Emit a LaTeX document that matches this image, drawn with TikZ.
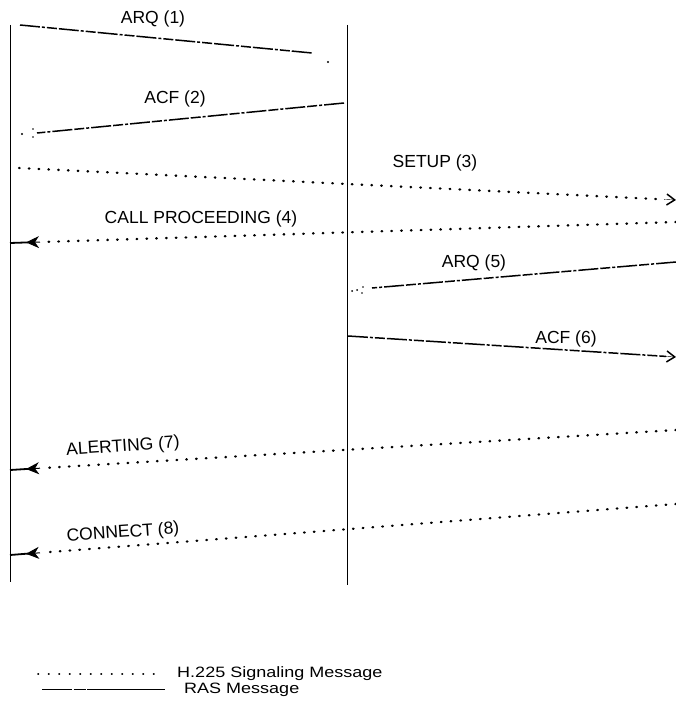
\documentclass[tikz,border=0pt]{standalone}
\usepackage{fontspec}
\setmainfont{Liberation Sans}
\usetikzlibrary{arrows.meta,calc}
\begin{document}
\begin{tikzpicture}[x=1pt,y=-1pt,
  lifeline/.style={line width=1pt},
  sigmsg/.style={line width=2.4pt, line cap=round, dash pattern=on 0.6pt off 9.2pt},
  rasmsg/.style={line width=1.5pt, dash pattern=on 20pt off 2pt on 3pt off 2pt on 10pt off 2pt},
  lbl/.style={font=\fontsize{17.5}{20}\selectfont, inner sep=1pt},
  fillhead/.style={-{Stealth[length=13pt,width=12pt,inset=4pt]}, line width=1pt},
  headbar/.style={line width=1.8pt},
  openhead/.style={-{Straight Barb[length=8pt,width=11pt,line width=1.5pt]}},
  legtext/.style={font=\fontsize{15}{16}\selectfont, anchor=west, inner sep=0pt, xscale=1.2}]
\useasboundingbox (0,0) rectangle (676,709);

% endpoints
\coordinate (Ltop) at (10,25);
\coordinate (Lbot) at (10,582);
\coordinate (Mtop) at (347,25);
\coordinate (Mbot) at (347,585);

% lifelines
\draw[lifeline] (Ltop) -- (Lbot);
\draw[lifeline] (Mtop) -- (Mbot);

% message end points
\coordinate (m1a) at (20,25);   \coordinate (m1b) at (312,53);
\coordinate (m2a) at (344,103); \coordinate (m2b) at (37,133);
\coordinate (m3a) at (19,168);  \coordinate (m3b) at (676,200);
\coordinate (m4a) at (676,222); \coordinate (m4b) at (10,243);
\coordinate (m5a) at (676,262); \coordinate (m5b) at (372,288);
\coordinate (m6a) at (348,336); \coordinate (m6b) at (676,357);
\coordinate (m7a) at (676,430); \coordinate (m7b) at (10,470);
\coordinate (m8a) at (676,504); \coordinate (m8b) at (10,555);

% ARQ (1)
\draw[rasmsg] (m1a) -- (m1b);
\fill (328,62) circle (1.2pt);
\node[lbl] (t1) at (153,19) {ARQ (1)};

% ACF (2)
\draw[rasmsg] (m2a) -- (m2b);
\fill (22,134) circle (1.1pt) (33,129) circle (0.8pt) (33,137) circle (0.8pt);
\node[lbl] (t2) at (175,99) {ACF (2)};

% SETUP (3)
\draw[sigmsg] (m3a) -- ($(m3b)+(-12,-0.6)$);
\draw[openhead] ($(m3b)+(-12,-0.6)$) -- (m3b);
\node[lbl] (t3) at (435,163) {SETUP (3)};

% CALL PROCEEDING (4)
\draw[sigmsg] (m4a) -- ($(m4b)+(32,-1)$);
\draw[fillhead] ($(m4b)+(30,-0.9)$) -- ($(m4b)+(16,-0.6)$);
\draw[headbar] ($(m4b)+(18,-0.6)$) -- (m4b);
\node[lbl] (t4) at (201,219) {CALL PROCEEDING (4)};

% ARQ (5)
\draw[rasmsg] (m5a) -- (m5b);
\fill (352,291) circle (1pt) (357,290) circle (1pt) (363,287) circle (0.8pt) (362,293) circle (0.8pt);
\node[lbl] (t5) at (474,263) {ARQ (5)};

% ACF (6)
\draw[rasmsg] (m6a) -- ($(m6b)+(-10,-0.6)$);
\draw[openhead] ($(m6b)+(-12,-0.7)$) -- (m6b);
\node[lbl] (t6) at (566,339) {ACF (6)};

% ALERTING (7)
\draw[sigmsg] (m7a) -- ($(m7b)+(32,-1.9)$);
\draw[fillhead] ($(m7b)+(30,-1.8)$) -- ($(m7b)+(16,-1)$);
\draw[headbar] ($(m7b)+(18,-1.1)$) -- (m7b);
\node[lbl, rotate=4] (t7) at (123,447) {ALERTING (7)};

% CONNECT (8)
\draw[sigmsg] (m8a) -- ($(m8b)+(32,-2.4)$);
\draw[fillhead] ($(m8b)+(30,-2.2)$) -- ($(m8b)+(16,-1.2)$);
\draw[headbar] ($(m8b)+(18,-1.4)$) -- (m8b);
\node[lbl, rotate=4] (t8) at (123,533) {CONNECT (8)};

% legend
\coordinate (k1a) at (38,674); \coordinate (k1b) at (164,674);
\coordinate (k2a) at (42,689); \coordinate (k2b) at (165,689);
\draw[sigmsg, line width=1.8pt, dash pattern=on 0.5pt off 10pt] (k1a) -- (k1b);
\draw[line width=1pt, dash pattern=on 30pt off 1.5pt on 12pt off 1.5pt on 90pt] (k2a) -- (k2b);
\node[legtext] (k1t) at (177,674) {H.225 Signaling Message};
\node[legtext] (k2t) at (184,689.5) {RAS Message};
\end{tikzpicture}
\end{document}
